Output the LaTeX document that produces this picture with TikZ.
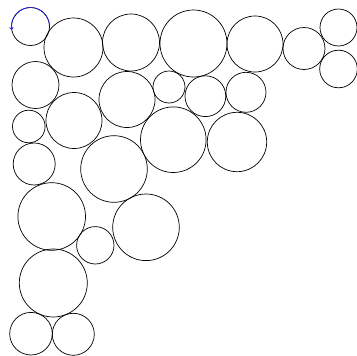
\documentclass[tikz,border=0pt]{standalone}
\usepackage{amsmath,amssymb}
\usepackage{tikz}
\usetikzlibrary{arrows.meta}

\begin{document}
\begin{tikzpicture}[x=0.25mm,y=-0.25mm,line width=0.5pt]
    \definecolor{arcblue}{RGB}{30,30,235}

    \useasboundingbox (0,0) rectangle (357,356);

    % circles
    \foreach \x/\y/\r in {30.5/26.5/19, 73.5/47.5/29.5, 131/42.5/28.5,
        193.5/43.5/33.5, 255/44/28, 304/48.5/21, 338.5/27.5/18.5,
        338.5/69/18.8, 35.5/85/23.5, 127/99.5/28, 169/87/16,
        205.4/96.2/20.4, 246/92.3/20, 28.8/126.5/16.3, 74/120.5/28,
        173.3/139.7/32.8, 237/142/29.7, 34.2/164/21, 114/169/33.3,
        51.7/216.5/33.8, 146/227.3/33.3, 95.3/245.3/18.7, 53.3/283/34,
        31/333.7/21.3, 73.3/334.3/21}
        \draw (\x,\y) circle (\r);

    % blue arc
    \draw[arcblue,-{To[length=2pt,width=3pt]}]
        (30.5,26.5) ++(-5:19) arc (-5:-190:19);
\end{tikzpicture}
\end{document}
